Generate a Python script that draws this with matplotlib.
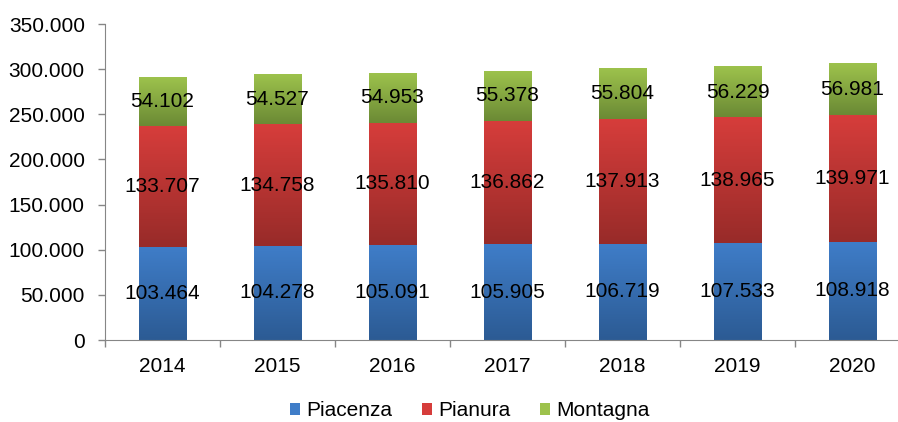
import numpy as np
import matplotlib.pyplot as plt
from matplotlib.colors import LinearSegmentedColormap
from matplotlib.patches import Patch

plt.rcParams['font.family'] = ['Liberation Sans', 'DejaVu Sans']

years = ['2014', '2015', '2016', '2017', '2018', '2019', '2020']
piacenza = [103464, 104278, 105091, 105905, 106719, 107533, 108918]
pianura = [133707, 134758, 135810, 136862, 137913, 138965, 139971]
montagna = [54102, 54527, 54953, 55378, 55804, 56229, 56981]

series = [
    ('Piacenza', piacenza, '#3f7dc8', '#2c5b94'),
    ('Pianura', pianura, '#d63d3b', '#982b29'),
    ('Montagna', montagna, '#9dc24c', '#6b8a35'),
]


def fmt(v):
    return f'{v:,}'.replace(',', '.')


fig = plt.figure(figsize=(8.98, 4.22), dpi=100)
ax = fig.add_axes([105 / 898, 82 / 422, 805 / 898, 316 / 422])

x = np.arange(len(years))
w = 0.41
bottom = np.zeros(len(years))
grad = np.linspace(1, 0, 64).reshape(-1, 1)

for name, vals, top_c, bot_c in series:
    cmap = LinearSegmentedColormap.from_list(name, [bot_c, top_c])
    for i, v in enumerate(vals):
        y0 = bottom[i]
        y1 = y0 + v
        # light shadow behind the bar
        ax.bar(x[i] + 0.012, v, w, bottom=y0 - 900, color='#dcdcdc', zorder=1)
        ax.imshow(grad, extent=[x[i] - w / 2, x[i] + w / 2, y0, y1],
                  aspect='auto', cmap=cmap, vmin=0, vmax=1, zorder=2,
                  interpolation='bilinear')
        ax.text(x[i], y0 + v / 2, fmt(v), ha='center', va='center',
                fontsize=15, color='black', zorder=3)
    bottom += np.array(vals)

ax.set_xlim(-0.5, len(years) - 0.5)
ax.set_ylim(0, 350000)
ax.set_yticks(np.arange(0, 350001, 50000))
ax.set_yticklabels([fmt(v) for v in range(0, 350001, 50000)], fontsize=15)
ax.set_xticks(x)
ax.set_xticklabels(years, fontsize=15)
ax.set_xticks(np.arange(-0.5, len(years), 1), minor=True)
ax.tick_params(axis='x', which='major', length=0, pad=12)
ax.tick_params(axis='x', which='minor', length=5, color='#868686', width=1)
ax.tick_params(axis='y', length=5, color='#868686', width=1, pad=9.5)

for s in ['top', 'right']:
    ax.spines[s].set_visible(False)
for s in ['left', 'bottom']:
    ax.spines[s].set_color('#868686')
ax.spines['bottom'].set_zorder(4)

handles = [Patch(facecolor=c, label=n) for n, _, c, _ in series]
fig.legend(handles=handles, loc='center', bbox_to_anchor=(470 / 898, 1 - 411 / 422),
           ncol=3, frameon=False, fontsize=15, handlelength=0.5, handleheight=0.5,
           handletextpad=0.3, columnspacing=1.4)

fig.savefig('out.png', dpi=100)
